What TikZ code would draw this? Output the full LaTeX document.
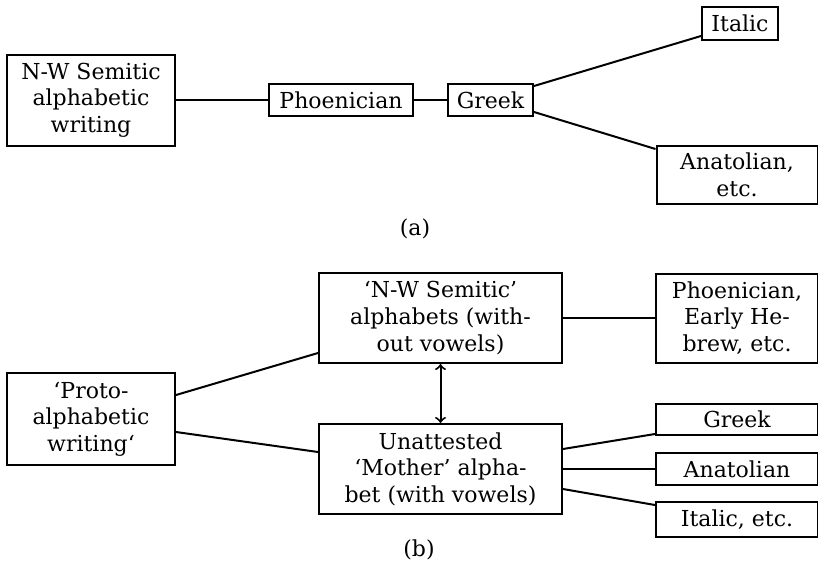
\documentclass[tikz,border=0pt]{standalone}
\usepackage{fontspec}
\setmainfont{DejaVu Serif}
\begin{document}
\begin{tikzpicture}[
	x=0.5pt, y=-0.5pt,
	box/.style={draw, line width=1pt, inner sep=0pt, align=center, font=\fontsize{11}{13.3}\selectfont},
	link/.style={line width=1pt},
	caption/.style={font=\fontsize{11}{13.3}\selectfont}
	]
	\useasboundingbox (0,0) rectangle (818,573);
	
	% (a) Phoenician as the middle link
	\node[box, minimum width=84pt, minimum height=45.5pt] (nwa) at (91,100) {N-W Semitic\\alphabetic\\writing};
	\node[box, minimum width=72pt, minimum height=16pt] (phoena) at (341,100) {Phoenician};
	\node[box, minimum width=42.5pt, minimum height=16pt] (greeka) at (490.5,100) {Greek};
	\node[box, minimum width=38pt, minimum height=16.5pt] (italica) at (740,23.5) {Italic};
	\node[box, minimum width=80.5pt, minimum height=29pt] (anata) at (737,175) {Anatolian,\\etc.};
	
	\draw[link] (nwa.east) -- (phoena.west);
	\draw[link] (phoena.east) -- (greeka.west);
	\draw[link] ([yshift=7pt]greeka.east) -- ([yshift=-6.25pt]italica.west);
	\draw[link] ([yshift=-6pt]greeka.east) -- ([yshift=13pt]anata.west);
	
	\node[caption] (capa) at (415,229) {(a)};
	
	% (b) unattested mother alphabet
	\node[box, minimum width=84pt, minimum height=46pt] (proto) at (91,419) {`Proto-\\alphabetic\\writing`};
	\node[box, minimum width=121.5pt, minimum height=45pt] (nwb) at (440.5,318) {`N-W Semitic'\\alphabets (with-\\out vowels)};
	\node[box, minimum width=121.5pt, minimum height=45pt] (mother) at (440.5,469) {Unattested\\`Mother' alpha-\\bet (with vowels)};
	\node[box, minimum width=81pt, minimum height=44.5pt] (phoenb) at (737,318) {Phoenician,\\Early He-\\brew, etc.};
	\node[box, minimum width=81pt, minimum height=15.5pt] (greekb) at (737,419.5) {Greek};
	\node[box, minimum width=81pt, minimum height=16pt] (anatb) at (737,469) {Anatolian};
	\node[box, minimum width=81pt, minimum height=17.5pt] (italicb) at (737,519.5) {Italic, etc.};
	
	\draw[link] ([yshift=12pt]proto.east) -- ([yshift=-17.5pt]nwb.west);
	\draw[link] ([yshift=-6.5pt]proto.east) -- ([yshift=8.5pt]mother.west);
	\draw[link] (nwb.east) -- (phoenb.west);
	\draw[link, <->] (nwb.south) -- (mother.north);
	\draw[link] ([yshift=10pt]mother.east) -- ([yshift=-7.25pt]greekb.west);
	\draw[link] (mother.east) -- (anatb.west);
	\draw[link] ([yshift=-10pt]mother.east) -- ([yshift=7.25pt]italicb.west);
	
	\node[caption] (capb) at (419,550) {(b)};
\end{tikzpicture}
\end{document}
